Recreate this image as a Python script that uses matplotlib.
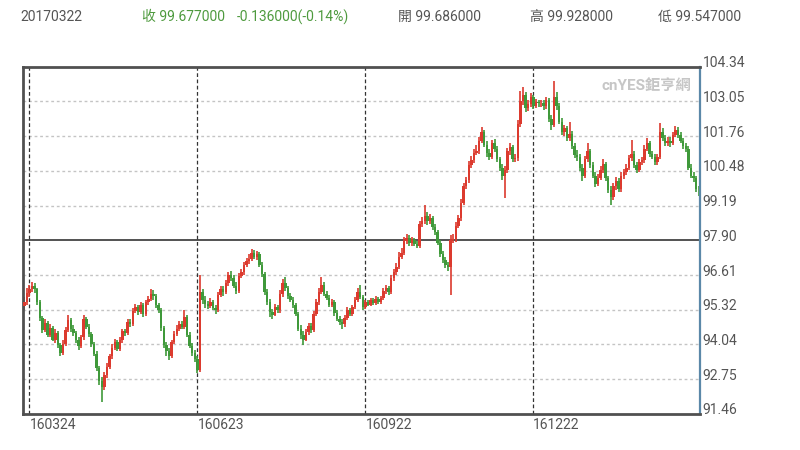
import numpy as np
import pandas as pd
import matplotlib
matplotlib.use("Agg")
import matplotlib.pyplot as plt
from matplotlib.transforms import ScaledTranslation

plt.rcParams['font.family'] = ['Roboto', 'Noto Sans CJK TC', 'DejaVu Sans']

# daily bars, 2016-03-22 .. 2017-03-22
dates = pd.bdate_range('2016-03-22', '2017-03-22')

closes = [
    95.62, 95.95, 96.10, 96.22, 96.08, 95.60, 95.02, 94.58, 94.82, 94.40,
    94.65, 94.22, 94.45, 94.02, 93.72, 94.05, 94.58, 94.95, 94.62, 94.48,
    94.20, 93.98, 94.30, 94.98, 94.70, 94.42, 94.05, 93.70, 93.18, 92.70,
    92.45, 92.90, 93.22, 93.60, 93.92, 94.12, 93.88, 94.20, 94.52, 94.45,
    94.88, 94.80, 95.28, 95.42, 95.25, 95.50, 95.18, 95.60, 95.72, 95.90,
    95.82, 95.50, 95.30, 94.65, 94.02, 93.80, 93.62, 94.12, 94.42, 94.62,
    94.80, 94.70, 95.05, 94.40, 94.00, 93.72, 93.50, 93.10, 95.98, 95.70,
    95.55, 95.48, 95.62, 95.40, 95.30, 95.88, 96.10, 95.98, 96.30, 96.60,
    96.50, 96.22, 96.02, 96.58, 96.72, 96.98, 97.12, 97.20, 97.42, 97.30,
    97.40, 97.00, 96.65, 96.00, 95.62, 95.25, 95.15, 95.42, 95.30, 95.90,
    96.30, 96.12, 95.82, 95.70, 95.50, 95.18, 94.62, 94.40, 94.22, 94.50,
    94.72, 94.58, 95.18, 95.60, 96.00, 96.25, 95.92, 95.78, 95.52, 95.60,
    95.20, 95.00, 94.88, 94.78, 95.02, 95.30, 95.18, 95.42, 95.70, 95.98,
    95.80, 95.42, 95.60, 95.52, 95.68, 95.58, 95.72, 95.62, 95.75, 96.02,
    96.12, 95.98, 96.50, 96.72, 96.90, 97.30, 97.42, 97.88, 98.00, 97.80,
    97.90, 97.78, 97.70, 98.52, 98.60, 98.82, 98.60, 98.72, 98.40, 98.20,
    97.82, 97.40, 97.18, 97.00, 96.90, 97.90, 97.95, 98.45, 98.72, 99.30,
    99.90, 100.12, 100.70, 100.88, 101.15, 101.22, 101.60, 101.90, 101.45, 101.15,
    101.00, 101.50, 101.30, 100.90, 100.60, 100.30, 100.50, 101.20, 101.35, 100.90,
    100.95, 102.20, 103.05, 103.30, 102.80, 102.95, 103.20, 102.90, 103.02, 102.98,
    103.00, 102.88, 103.10, 102.40, 102.18, 103.20, 102.90, 102.30, 101.90, 102.05,
    101.70, 101.85, 101.40, 101.08, 101.00, 100.60, 100.30, 100.90, 101.20, 100.70,
    100.30, 100.00, 100.22, 100.50, 100.72, 100.20, 99.78, 99.50, 99.90, 100.10,
    99.80, 100.30, 100.42, 100.60, 100.95, 101.10, 100.70, 100.52, 100.80, 100.88,
    101.30, 101.50, 101.10, 101.00, 100.80, 101.00, 101.90, 101.70, 101.50, 101.60,
    101.50, 101.80, 102.00, 101.80, 101.60, 101.40, 101.30, 100.60, 100.30, 100.20,
    99.81, 99.677,
]

opens = [
    95.45, 95.62, 95.95, 96.10, 96.22, 96.08, 95.60, 95.02, 94.58, 94.82,
    94.40, 94.65, 94.22, 94.45, 94.02, 93.72, 94.05, 94.58, 94.95, 94.62,
    94.48, 94.20, 93.98, 94.30, 94.98, 94.70, 94.42, 94.05, 93.70, 93.18,
    92.70, 92.45, 92.90, 93.22, 93.60, 93.92, 94.12, 93.88, 94.20, 94.52,
    94.45, 94.88, 94.80, 95.28, 95.42, 95.25, 95.50, 95.18, 95.60, 95.72,
    95.90, 95.82, 95.50, 95.30, 94.65, 94.02, 93.80, 93.62, 94.12, 94.42,
    94.62, 94.80, 94.70, 95.05, 94.40, 94.00, 93.72, 93.50, 93.10, 95.98,
    95.70, 95.55, 95.48, 95.62, 95.40, 95.30, 95.88, 96.10, 95.98, 96.30,
    96.60, 96.50, 96.22, 96.02, 96.58, 96.72, 96.98, 97.12, 97.20, 97.42,
    97.30, 97.40, 97.00, 96.65, 96.00, 95.62, 95.25, 95.15, 95.42, 95.30,
    95.90, 96.30, 96.12, 95.82, 95.70, 95.50, 95.18, 94.62, 94.40, 94.22,
    94.50, 94.72, 94.58, 95.18, 95.60, 96.00, 96.25, 95.92, 95.78, 95.52,
    95.60, 95.20, 95.00, 94.88, 94.78, 95.02, 95.30, 95.18, 95.42, 95.70,
    95.98, 95.80, 95.42, 95.60, 95.52, 95.68, 95.58, 95.72, 95.62, 95.75,
    96.02, 96.12, 95.98, 96.50, 96.72, 96.90, 97.30, 97.42, 97.88, 98.00,
    97.80, 97.90, 97.78, 97.70, 98.52, 98.60, 98.82, 98.60, 98.72, 98.40,
    98.20, 97.82, 97.40, 97.18, 97.00, 96.90, 97.90, 97.95, 98.45, 98.72,
    99.30, 99.90, 100.12, 100.70, 100.88, 101.15, 101.22, 101.60, 101.90, 101.45,
    101.15, 101.00, 101.50, 101.30, 100.90, 100.60, 100.30, 100.50, 101.20, 101.35,
    100.90, 100.95, 102.20, 103.05, 103.30, 102.80, 102.95, 103.20, 102.90, 103.02,
    102.98, 103.00, 102.88, 103.10, 102.40, 102.18, 103.20, 102.90, 102.30, 101.90,
    102.05, 101.70, 101.85, 101.40, 101.08, 101.00, 100.60, 100.30, 100.90, 101.20,
    100.70, 100.30, 100.00, 100.22, 100.50, 100.72, 100.20, 99.78, 99.50, 99.90,
    100.10, 99.80, 100.30, 100.42, 100.60, 100.95, 101.10, 100.70, 100.52, 100.80,
    100.88, 101.30, 101.50, 101.10, 101.00, 100.80, 101.00, 101.90, 101.70, 101.50,
    101.60, 101.50, 101.80, 102.00, 101.80, 101.60, 101.40, 101.30, 100.60, 100.30,
    100.20, 99.686,
]

highs = [
    95.80, 96.12, 96.25, 96.35, 96.30, 96.15, 95.70, 95.10, 94.98, 94.90,
    94.80, 94.72, 94.60, 94.52, 94.10, 94.20, 94.70, 95.15, 95.02, 94.75,
    94.55, 94.32, 94.40, 95.12, 95.05, 94.80, 94.50, 94.12, 93.78, 93.25,
    92.85, 93.00, 93.35, 93.70, 94.05, 94.25, 94.20, 94.30, 94.62, 94.60,
    94.98, 95.00, 95.38, 95.55, 95.50, 95.62, 95.58, 95.70, 95.85, 96.10,
    96.05, 95.92, 95.58, 95.38, 94.72, 94.12, 93.92, 94.22, 94.55, 94.75,
    94.92, 94.90, 95.32, 95.12, 94.50, 94.10, 93.85, 93.62, 96.62, 96.10,
    95.85, 95.65, 95.75, 95.70, 95.50, 95.98, 96.22, 96.20, 96.42, 96.72,
    96.75, 96.62, 96.35, 96.68, 96.85, 97.08, 97.25, 97.38, 97.58, 97.55,
    97.52, 97.48, 97.10, 96.72, 96.10, 95.72, 95.35, 95.55, 95.50, 96.05,
    96.45, 96.55, 96.20, 95.95, 95.80, 95.58, 95.25, 94.75, 94.52, 94.62,
    94.85, 94.82, 95.28, 95.72, 96.12, 96.55, 96.35, 96.02, 95.88, 95.72,
    95.68, 95.30, 95.10, 95.00, 95.12, 95.42, 95.40, 95.52, 95.80, 96.12,
    96.25, 95.88, 95.70, 95.68, 95.78, 95.75, 95.82, 95.80, 95.85, 96.15,
    96.25, 96.20, 96.62, 96.85, 97.05, 97.45, 97.60, 98.02, 98.15, 98.08,
    98.02, 98.00, 97.88, 98.62, 98.75, 99.20, 98.95, 98.88, 98.80, 98.50,
    98.28, 97.92, 97.50, 97.30, 97.10, 98.10, 98.12, 98.58, 98.85, 99.42,
    100.02, 100.25, 100.85, 101.02, 101.30, 101.45, 101.75, 102.12, 102.00, 101.60,
    101.28, 101.62, 101.65, 101.40, 101.00, 100.72, 100.65, 101.32, 101.50, 101.45,
    101.10, 102.35, 103.45, 103.58, 103.40, 103.12, 103.35, 103.30, 103.15, 103.12,
    103.12, 103.10, 103.22, 103.18, 102.55, 103.80, 103.40, 102.98, 102.42, 102.18,
    102.15, 102.30, 101.95, 101.50, 101.25, 101.10, 100.72, 101.02, 101.50, 101.30,
    100.80, 100.42, 100.35, 100.65, 100.90, 100.80, 100.30, 99.90, 100.02, 100.25,
    100.22, 100.42, 100.55, 100.72, 101.08, 101.62, 101.20, 100.82, 100.92, 101.00,
    101.42, 101.70, 101.60, 101.22, 101.12, 101.10, 102.25, 102.05, 101.80, 101.72,
    101.72, 101.92, 102.15, 102.10, 101.90, 101.70, 101.52, 101.40, 100.72, 100.45,
    100.30, 99.928,
]

lows = [
    95.30, 95.50, 95.80, 95.98, 95.95, 95.52, 94.92, 94.45, 94.50, 94.30,
    94.30, 94.15, 94.10, 93.90, 93.60, 93.65, 93.98, 94.50, 94.50, 94.35,
    94.10, 93.85, 93.90, 94.22, 94.60, 94.32, 93.95, 93.60, 93.05, 92.55,
    91.90, 92.35, 92.80, 93.12, 93.50, 93.82, 93.78, 93.80, 94.10, 94.35,
    94.38, 94.70, 94.72, 95.20, 95.15, 95.18, 95.05, 95.10, 95.52, 95.65,
    95.70, 95.40, 95.20, 94.55, 93.92, 93.62, 93.45, 93.55, 94.05, 94.35,
    94.52, 94.60, 94.62, 94.30, 93.90, 93.60, 93.40, 92.98, 93.00, 95.55,
    95.40, 95.35, 95.40, 95.30, 95.18, 95.25, 95.80, 95.85, 95.90, 96.22,
    96.38, 96.12, 95.92, 95.95, 96.50, 96.62, 96.90, 97.02, 97.12, 97.20,
    97.18, 96.92, 96.55, 95.88, 95.50, 95.05, 95.00, 95.08, 95.20, 95.22,
    95.80, 96.02, 95.72, 95.60, 95.40, 95.08, 94.52, 94.25, 94.02, 94.15,
    94.40, 94.45, 94.50, 95.10, 95.50, 95.92, 95.82, 95.68, 95.42, 95.42,
    95.10, 94.92, 94.75, 94.62, 94.70, 94.95, 95.08, 95.10, 95.35, 95.62,
    95.72, 95.30, 95.35, 95.45, 95.45, 95.50, 95.50, 95.55, 95.55, 95.68,
    95.92, 95.88, 95.90, 96.40, 96.62, 96.82, 97.20, 97.35, 97.75, 97.70,
    97.70, 97.68, 97.60, 97.62, 98.40, 98.50, 98.48, 98.52, 98.30, 98.10,
    97.72, 97.30, 97.05, 96.88, 96.78, 95.88, 97.80, 97.85, 98.35, 98.62,
    99.20, 99.80, 100.02, 100.60, 100.78, 101.05, 101.12, 101.50, 101.35, 101.00,
    100.88, 100.92, 101.18, 100.80, 100.48, 100.15, 99.48, 100.40, 101.08, 100.80,
    100.80, 100.85, 102.10, 102.92, 102.65, 102.70, 102.85, 102.78, 102.80, 102.85,
    102.85, 102.75, 102.78, 102.30, 102.00, 102.10, 102.75, 102.20, 101.80, 101.78,
    101.58, 101.60, 101.30, 100.95, 100.85, 100.48, 100.10, 100.20, 100.80, 100.60,
    100.20, 99.88, 99.90, 100.12, 100.40, 100.10, 99.65, 99.22, 99.40, 99.78,
    99.70, 99.70, 100.18, 100.32, 100.50, 100.85, 100.58, 100.40, 100.42, 100.70,
    100.78, 101.20, 101.00, 100.90, 100.70, 100.70, 100.92, 101.60, 101.40, 101.40,
    101.38, 101.42, 101.72, 101.70, 101.50, 101.30, 101.18, 100.50, 100.20, 100.08,
    99.70, 99.547,
]

y_ticks = [91.46, 92.75, 94.04, 95.32, 96.61, 97.90, 99.19, 100.48, 101.76, 103.05, 104.34]
x_tick_dates = ['2016-03-24', '2016-06-23', '2016-09-22', '2016-12-22']
x_tick_labels = ['160324', '160623', '160922', '161222']

header = [
    ('20170322', '#555555'),
    ('收 99.677000', '#4e9a3e'),
    ('-0.136000(-0.14%)', '#4e9a3e'),
    ('開 99.686000', '#555555'),
    ('高 99.928000', '#555555'),
    ('低 99.547000', '#555555'),
]
header_x = [20, 142, 237, 398, 530, 658]

df = pd.DataFrame({'open': opens, 'high': highs, 'low': lows, 'close': closes}, index=dates)
idx = np.arange(len(df))
up = df['close'] >= df['open']
colors = np.where(up, '#dc3a2e', '#3f993a')

fig = plt.figure(figsize=(8, 4.5), dpi=100)
ax = fig.add_axes([23 / 800, 1 - 414 / 450, 677 / 800, (414 - 66.7) / 450])

# grid first
for v in y_ticks[1:-1]:
    if abs(v - 97.90) < 1e-6:
        ax.axhline(v, color='#444444', lw=1.3, zorder=1)
    else:
        ax.axhline(v, color='#c4c4c4', lw=1.0, ls=(0, (2, 2)), zorder=1)

xt = [df.index.get_loc(pd.Timestamp(d)) for d in x_tick_dates]
for p in xt:
    ax.axvline(p, color='#333333', lw=0.9, ls=(0, (3, 2)), zorder=1)

# candles
ax.vlines(idx, df['low'], df['high'], colors=colors, lw=1.2, zorder=2)
body_lo = np.minimum(df['open'], df['close'])
body_h = np.abs(df['close'] - df['open'])
ax.bar(idx, body_h, bottom=body_lo, width=0.95, color=colors, linewidth=0, zorder=3)

ax.set_xlim(-0.5, len(df) - 0.5)
ax.set_ylim(y_ticks[0], y_ticks[-1])

ax.set_xticks(xt)
ax.set_xticklabels(x_tick_labels, ha='left', fontsize=10, color='#555555')
ax.yaxis.tick_right()
ax.set_yticks(y_ticks)
ax.set_yticklabels(['%.2f' % v for v in y_ticks], fontsize=10, color='#555555')
ax.tick_params(length=0, axis='y', pad=2)
ax.tick_params(length=0, axis='x', pad=3)
shift = ScaledTranslation(0, 0.05, fig.dpi_scale_trans)
for lab in ax.get_yticklabels():
    lab.set_transform(lab.get_transform() + shift)

for side in ['left', 'top', 'bottom']:
    ax.spines[side].set_color('#505050')
    ax.spines[side].set_linewidth(2.0)
ax.spines['right'].set_color('#5b88a8')
ax.spines['right'].set_linewidth(1.6)

ax.text(0.987, 0.965, 'cnYES鉅亨網', transform=ax.transAxes, ha='right', va='top',
        fontsize=11, fontweight='bold', color='#c6c6c6', zorder=4)

for (txt, col), x in zip(header, header_x):
    fig.text(x / 800, 1 - 17 / 450, txt, ha='left', va='center', fontsize=10, color=col)

fig.savefig('out.png', dpi=100)
